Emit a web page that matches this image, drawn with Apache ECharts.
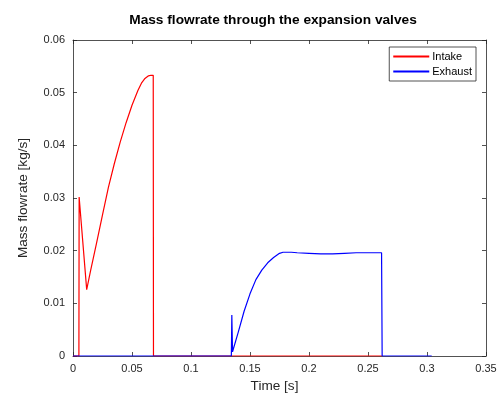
<!DOCTYPE html>
<html><head><meta charset="utf-8">
<script src="https://cdn.jsdelivr.net/npm/echarts@6/dist/echarts.min.js"></script>
<style>html,body{margin:0;padding:0;background:#fff}#c{width:503px;height:394px}</style>
</head><body><div id="c"></div>
<script>
var xTicks = [0, 0.05, 0.1, 0.15, 0.2, 0.25, 0.3, 0.35];
var yTicks = [0, 0.01, 0.02, 0.03, 0.04, 0.05, 0.06];
var intakeT = [0, 0.005, 0.0052, 0.0116, 0.015, 0.02, 0.025, 0.03, 0.035, 0.04, 0.045, 0.05, 0.055, 0.058, 0.061, 0.064, 0.066, 0.068, 0.0682, 0.262];
var intakeV = [0, 0, 0.0302, 0.0126, 0.0163, 0.0215, 0.0268, 0.0320, 0.0365, 0.0406, 0.0443, 0.0476, 0.0504, 0.0518, 0.0527, 0.0532, 0.0533, 0.0533, 0, 0];
var exhaustT = [0, 0.1342, 0.1346, 0.1352, 0.14, 0.145, 0.15, 0.155, 0.16, 0.165, 0.17, 0.175, 0.178, 0.185, 0.19, 0.2, 0.21, 0.22, 0.23, 0.24, 0.25, 0.2615, 0.262, 0.304];
var exhaustV = [0, 0, 0.0078, 0.0008, 0.0045, 0.0085, 0.0118, 0.0145, 0.0163, 0.0177, 0.0187, 0.0195, 0.0197, 0.0197, 0.0196, 0.0195, 0.0194, 0.0194, 0.0195, 0.0196, 0.0196, 0.0196, 0, 0];

function pairs(t, v){ return t.map(function(x,i){return [x, v[i]];}); }
var axisCol = '#262626';
var font = 'Liberation Sans, Arial, sans-serif';
var chart = echarts.init(document.getElementById('c'), null, {renderer:'canvas'});
function fmt(v){ return String(+v.toFixed(2)); }
function baseX(pos, showLabel){
  return {type:'value', position:pos, min:0, max:0.35, interval:0.05,
    axisLine:{show:true, onZero:false, lineStyle:{color:axisCol, width:0.8}},
    axisTick:{show:true, inside:true, length:4, lineStyle:{color:axisCol, width:0.8}},
    axisLabel:{show:showLabel, color:axisCol, fontSize:11, fontFamily:font, margin:7, formatter:fmt},
    splitLine:{show:false}};
}
function baseY(pos, showLabel){
  return {type:'value', position:pos, min:0, max:0.06, interval:0.01,
    axisLine:{show:true, onZero:false, lineStyle:{color:axisCol, width:0.8}},
    axisTick:{show:true, inside:true, length:4, lineStyle:{color:axisCol, width:0.8}},
    axisLabel:{show:showLabel, color:axisCol, fontSize:11, fontFamily:font, margin:8, formatter:fmt},
    splitLine:{show:false}};
}
var xa = baseX('bottom', true);
xa.name = 'Time [s]'; xa.nameLocation = 'middle'; xa.nameGap = 20;
xa.nameTextStyle = {color:axisCol, fontSize:13.6, fontFamily:font, padding:[0,10,0,0]};
var ya = baseY('left', true);
ya.name = 'Mass flowrate [kg/s]'; ya.nameLocation = 'middle'; ya.nameGap = 43;
ya.nameTextStyle = {color:axisCol, fontSize:13.6, fontFamily:font};
chart.setOption({
  animation:false,
  title:{text:'Mass flowrate through the expansion valves', left:268, top:8, textAlign:'center',
    textStyle:{fontSize:13.7, fontWeight:'bold', color:'#000', fontFamily:font}},
  grid:{left:73, right:17, top:40, bottom:38, containLabel:false, outerBoundsMode:'none'},
  legend:{right:27, top:47, orient:'vertical', itemWidth:36, itemHeight:2, itemGap:4,
    icon:'rect', borderColor:axisCol, borderWidth:0.8, padding:[4,4,4,4],
    backgroundColor:'#fff',
    textStyle:{fontSize:11, fontFamily:font, color:'#000', padding:[0,0,0,-2]},
    data:['Intake','Exhaust']},
  xAxis:[xa, baseX('top', false)],
  yAxis:[ya, baseY('right', false)],
  series:[
    {name:'Intake', type:'line', data:pairs(intakeT, intakeV), showSymbol:false, smooth:false,
      color:'#ff0000', lineStyle:{color:'#ff0000', width:1.2}, xAxisIndex:0, yAxisIndex:0},
    {name:'Exhaust', type:'line', data:pairs(exhaustT, exhaustV), showSymbol:false, smooth:false,
      color:'#0000ff', lineStyle:{color:'#0000ff', width:1.2}, xAxisIndex:0, yAxisIndex:0}
  ]
});
</script></body></html>
